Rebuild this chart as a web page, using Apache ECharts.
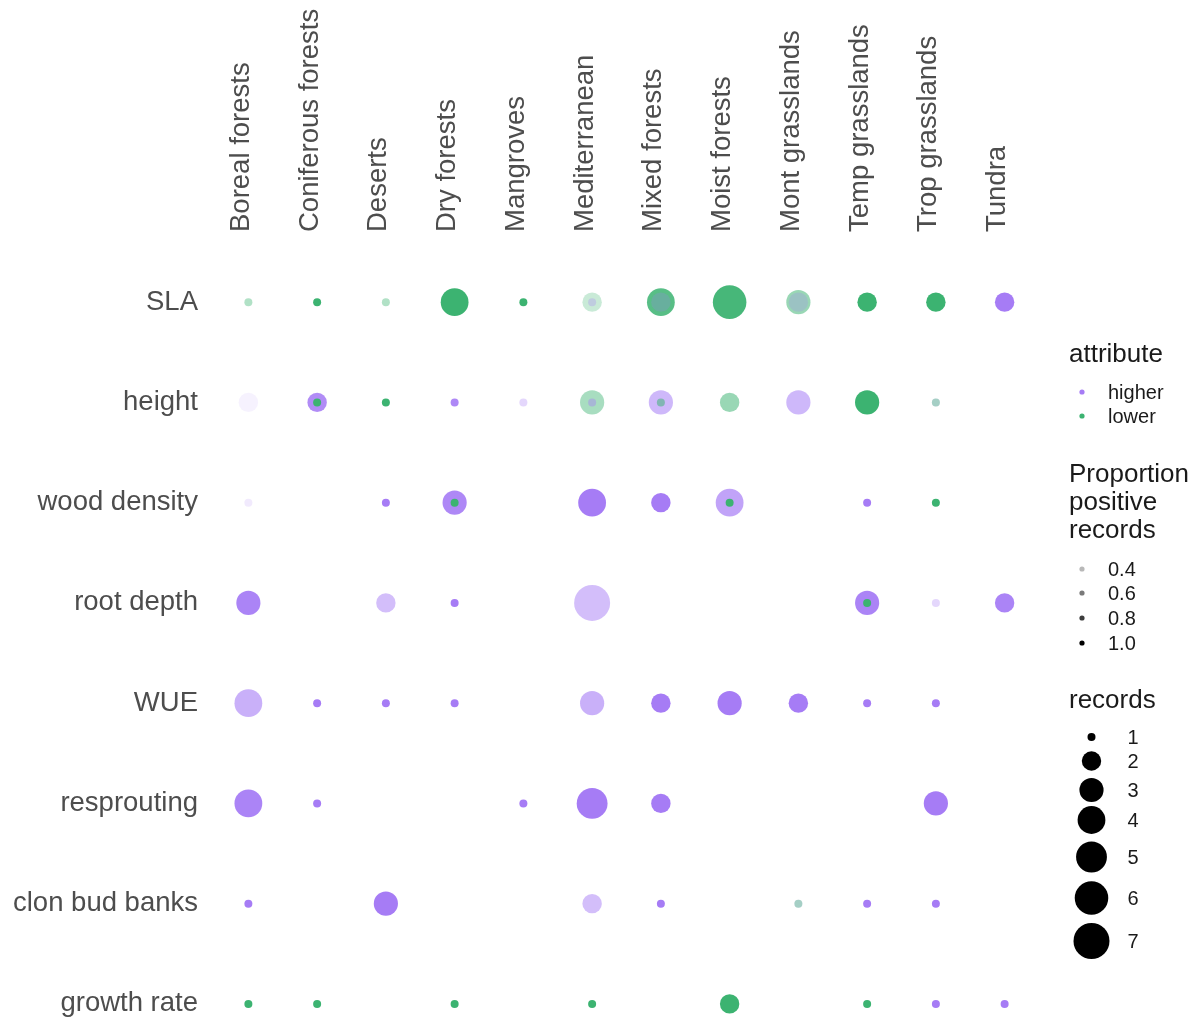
<!DOCTYPE html>
<html>
<head>
<meta charset="utf-8">
<title>Trait shifts by biome</title>
<script src="https://cdn.jsdelivr.net/npm/echarts@6/dist/echarts.min.js"></script>
<style>
  html, body { margin: 0; padding: 0; background: #ffffff; }
  #chart { width: 1195px; height: 1020px; }
</style>
</head>
<body>
<div id="chart"></div>
<script>
// Biomes along the top, traits down the side
const biomes = ['Boreal forests', 'Coniferous forests', 'Deserts', 'Dry forests', 'Mangroves',
  'Mediterranean', 'Mixed forests', 'Moist forests', 'Mont grasslands', 'Temp grasslands',
  'Trop grasslands', 'Tundra'];
const traits = ['SLA', 'height', 'wood density', 'root depth', 'WUE', 'resprouting',
  'clon bud banks', 'growth rate'];

// [biome, trait, records, proportion of positive records]
const higherRecords = [
  ['Mediterranean', 'SLA', 1, 0.4],
  ['Mixed forests', 'SLA', 2, 0.35],
  ['Mont grasslands', 'SLA', 2, 0.35],
  ['Tundra', 'SLA', 2, 1.0],
  ['Boreal forests', 'height', 2, 0.25],
  ['Coniferous forests', 'height', 2, 0.9],
  ['Dry forests', 'height', 1, 0.92],
  ['Mangroves', 'height', 1, 0.42],
  ['Mediterranean', 'height', 1, 0.5],
  ['Mixed forests', 'height', 3, 0.62],
  ['Mont grasslands', 'height', 3, 0.62],
  ['Trop grasslands', 'height', 1, 0.35],
  ['Boreal forests', 'wood density', 1, 0.3],
  ['Deserts', 'wood density', 1, 1.0],
  ['Dry forests', 'wood density', 3, 0.92],
  ['Mediterranean', 'wood density', 4, 1.0],
  ['Mixed forests', 'wood density', 2, 1.0],
  ['Moist forests', 'wood density', 4, 0.75],
  ['Temp grasslands', 'wood density', 1, 1.0],
  ['Boreal forests', 'root depth', 3, 0.95],
  ['Deserts', 'root depth', 2, 0.58],
  ['Dry forests', 'root depth', 1, 1.0],
  ['Mediterranean', 'root depth', 7, 0.58],
  ['Temp grasslands', 'root depth', 3, 0.95],
  ['Trop grasslands', 'root depth', 1, 0.42],
  ['Tundra', 'root depth', 2, 0.95],
  ['Boreal forests', 'WUE', 4, 0.67],
  ['Coniferous forests', 'WUE', 1, 1.0],
  ['Deserts', 'WUE', 1, 1.0],
  ['Dry forests', 'WUE', 1, 1.0],
  ['Mediterranean', 'WUE', 3, 0.67],
  ['Mixed forests', 'WUE', 2, 1.0],
  ['Moist forests', 'WUE', 3, 1.0],
  ['Mont grasslands', 'WUE', 2, 1.0],
  ['Temp grasslands', 'WUE', 1, 1.0],
  ['Trop grasslands', 'WUE', 1, 1.0],
  ['Boreal forests', 'resprouting', 4, 0.95],
  ['Coniferous forests', 'resprouting', 1, 1.0],
  ['Mangroves', 'resprouting', 1, 1.0],
  ['Mediterranean', 'resprouting', 5, 1.0],
  ['Mixed forests', 'resprouting', 2, 1.0],
  ['Trop grasslands', 'resprouting', 3, 1.0],
  ['Boreal forests', 'clon bud banks', 1, 1.0],
  ['Deserts', 'clon bud banks', 3, 1.0],
  ['Mediterranean', 'clon bud banks', 2, 0.58],
  ['Mixed forests', 'clon bud banks', 1, 1.0],
  ['Mont grasslands', 'clon bud banks', 1, 0.35],
  ['Temp grasslands', 'clon bud banks', 1, 1.0],
  ['Trop grasslands', 'clon bud banks', 1, 1.0],
  ['Trop grasslands', 'growth rate', 1, 1.0],
  ['Tundra', 'growth rate', 1, 1.0]
];

const lowerRecords = [
  ['Boreal forests', 'SLA', 1, 0.5],
  ['Coniferous forests', 'SLA', 1, 1.0],
  ['Deserts', 'SLA', 1, 0.5],
  ['Dry forests', 'SLA', 4, 1.0],
  ['Mangroves', 'SLA', 1, 1.0],
  ['Mediterranean', 'SLA', 2, 0.4],
  ['Mixed forests', 'SLA', 4, 0.88],
  ['Moist forests', 'SLA', 6, 0.95],
  ['Mont grasslands', 'SLA', 3, 0.6],
  ['Temp grasslands', 'SLA', 2, 1.0],
  ['Trop grasslands', 'SLA', 2, 1.0],
  ['Coniferous forests', 'height', 1, 1.0],
  ['Deserts', 'height', 1, 1.0],
  ['Mediterranean', 'height', 3, 0.54],
  ['Mixed forests', 'height', 1, 0.6],
  ['Moist forests', 'height', 2, 0.6],
  ['Temp grasslands', 'height', 3, 1.0],
  ['Trop grasslands', 'height', 1, 0.5],
  ['Dry forests', 'wood density', 1, 1.0],
  ['Moist forests', 'wood density', 1, 1.0],
  ['Trop grasslands', 'wood density', 1, 1.0],
  ['Temp grasslands', 'root depth', 1, 1.0],
  ['Mont grasslands', 'clon bud banks', 1, 0.5],
  ['Boreal forests', 'growth rate', 1, 1.0],
  ['Coniferous forests', 'growth rate', 1, 1.0],
  ['Dry forests', 'growth rate', 1, 1.0],
  ['Mediterranean', 'growth rate', 1, 1.0],
  ['Moist forests', 'growth rate', 2, 1.0],
  ['Temp grasslands', 'growth rate', 1, 1.0]
];

// Legend break values
const recordBreaks = [1, 2, 3, 4, 5, 6, 7];
const proportionBreaks = ['0.4', '0.6', '0.8', '1.0'];

const COLORS = { higher: '#a67cf5', lower: '#3cb371' };
const FONT = 'Liberation Sans, Arial, sans-serif';

// Area-style size scale: records 1..7 -> diameter in px
function sizeFor(rec) {
  const s = 1 + 5 * Math.sqrt((rec - 1) / 6);
  return 2.4 + 5.6 * s;
}
// Alpha scale: proportion 0.25..1 -> opacity 0.1..1
function alphaFor(p) {
  return Math.max(0.1, Math.min(1, 0.1 + 0.9 * (p - 0.25) / 0.75));
}

// A point goes on the upper layer when the other attribute in the same cell is bigger,
// so small marks stay visible on top of large ones.
function splitLayers(own, other) {
  const base = [], top = [];
  own.forEach(function (r) {
    const bigger = other.some(function (o) {
      return o[0] === r[0] && o[1] === r[1] && o[2] > r[2];
    });
    const item = { value: r, itemStyle: { opacity: alphaFor(r[3]) } };
    (bigger ? top : base).push(item);
  });
  return { base: base, top: top };
}

const hi = splitLayers(higherRecords, lowerRecords);
const lo = splitLayers(lowerRecords, higherRecords);

function scatter(name, data, z) {
  return {
    name: name,
    type: 'scatter',
    data: data,
    z: z,
    symbol: 'circle',
    symbolSize: function (v) { return sizeFor(v[2]); },
    itemStyle: { color: COLORS[name] },
    emphasis: { disabled: true }
  };
}

// Legend on the right drawn as graphics
const legendGraphics = [];
function txt(x, y, s, size, color, align) {
  legendGraphics.push({
    type: 'text', x: x, y: y, silent: true,
    style: { text: s, font: size + 'px ' + FONT, fill: color, textAlign: align || 'left', textVerticalAlign: 'middle' }
  });
}
function dot(x, y, r, color, opacity) {
  legendGraphics.push({
    type: 'circle', x: x, y: y, silent: true,
    shape: { cx: 0, cy: 0, r: r },
    style: { fill: color, opacity: opacity }
  });
}

txt(1069, 355, 'attribute', 26, '#1a1a1a');
dot(1082, 392, 2.6, COLORS.higher, 1);
txt(1108, 393, 'higher', 20, '#1a1a1a');
dot(1082, 416, 2.6, COLORS.lower, 1);
txt(1108, 417, 'lower', 20, '#1a1a1a');

txt(1069, 475, 'Proportion', 26, '#1a1a1a');
txt(1069, 503, 'positive', 26, '#1a1a1a');
txt(1069, 531, 'records', 26, '#1a1a1a');
const propY = [569, 593, 618, 643];
proportionBreaks.forEach(function (b, i) {
  dot(1082, propY[i], 2.6, '#000000', alphaFor(parseFloat(b)));
  txt(1108, propY[i] + 1, b, 20, '#1a1a1a');
});

txt(1069, 701, 'records', 26, '#1a1a1a');
const recY = [737, 761, 790, 820, 857, 898, 941];
recordBreaks.forEach(function (b, i) {
  dot(1091.5, recY[i], sizeFor(b) / 2, '#000000', 1);
  txt(1133, recY[i] + 1, String(b), 20, '#1a1a1a', 'center');
});

const chart = echarts.init(document.getElementById('chart'), null, { renderer: 'canvas' });
chart.setOption({
  backgroundColor: '#ffffff',
  animation: false,
  tooltip: { show: false },
  grid: {
    left: 214, top: 252, width: 825, height: 802,
    containLabel: false, outerBoundsMode: 'none'
  },
  xAxis: {
    type: 'category',
    data: biomes,
    position: 'top',
    boundaryGap: true,
    axisLine: { show: false },
    axisTick: { show: false },
    splitLine: { show: false },
    axisLabel: {
      interval: 0, rotate: -90, margin: 20,
      verticalAlign: 'bottom', lineHeight: 14,
      fontSize: 27.5, fontFamily: FONT, color: '#4d4d4d'
    }
  },
  yAxis: {
    type: 'category',
    data: traits,
    inverse: true,
    boundaryGap: true,
    axisLine: { show: false },
    axisTick: { show: false },
    splitLine: { show: false },
    axisLabel: {
      interval: 0, margin: 16,
      fontSize: 27.5, fontFamily: FONT, color: '#4d4d4d'
    }
  },
  series: [
    scatter('higher', hi.base, 2),
    scatter('lower', lo.base, 3),
    scatter('higher', hi.top, 4),
    scatter('lower', lo.top, 5)
  ],
  graphic: legendGraphics
});
</script>
</body>
</html>
